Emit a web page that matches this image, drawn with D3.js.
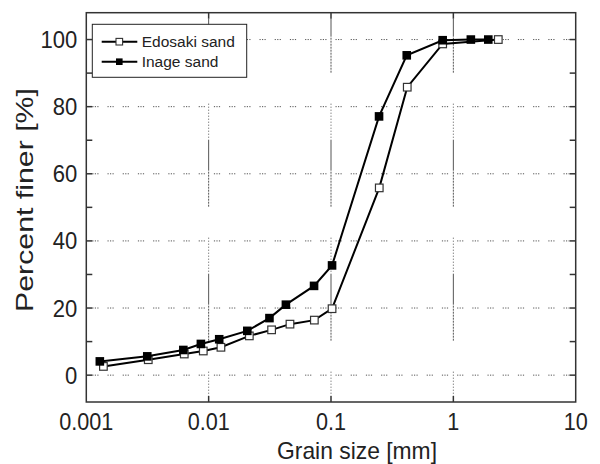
<!DOCTYPE html>
<html>
<head>
<meta charset="utf-8">
<script src="https://cdn.jsdelivr.net/npm/d3@7"></script>
<style>
  body { margin: 0; background: #fff; }
  text { font-family: "Liberation Sans", Arial, sans-serif; fill: #222; }
</style>
</head>
<body>
<div id="chart"></div>
<script>
// grain size distribution (sieve + hydrometer)
var edoSize = [0.00138, 0.00321, 0.00632, 0.00904, 0.0126, 0.0215, 0.0327, 0.0462, 0.0731, 0.102, 0.248, 0.42, 0.818, 2.33];
var edoPct  = [2.6, 4.6, 6.3, 7.2, 8.3, 11.7, 13.5, 15.2, 16.4, 19.8, 55.8, 85.8, 98.7, 100];
var inaSize = [0.00129, 0.00315, 0.00621, 0.00864, 0.0122, 0.0207, 0.0314, 0.0428, 0.0727, 0.102, 0.247, 0.416, 0.818, 1.39, 1.93];
var inaPct  = [4.1, 5.6, 7.5, 9.3, 10.7, 13.2, 17.0, 21.0, 26.6, 32.7, 77.1, 95.3, 99.8, 100, 100];

var xTicks = [0.001, 0.01, 0.1, 1, 10];
var xLabels = ["0.001", "0.01", "0.1", "1", "10"];
var yTicks = [0, 20, 40, 60, 80, 100];
var yMinor = [10, 30, 50, 70, 90];

var w = 600, h = 464;
var L = 86.3, R = 575.7, T = 12.7, B = 402;

var svg = d3.select("#chart").append("svg")
  .attr("width", w).attr("height", h);

var x = d3.scaleLog().domain([0.001, 10]).range([L, R]);
var y = d3.scaleLinear().domain([-8, 108]).range([B, T]);

// grid
svg.append("g").selectAll("line")
  .data(yTicks).enter().append("line")
  .attr("x1", L + 6).attr("x2", R - 6)
  .attr("y1", d => y(d)).attr("y2", d => y(d))
  .attr("stroke", "#555").attr("stroke-width", 1)
  .attr("stroke-dasharray", "1.2,1.3,1.2,1.3,1.2,9");

var vdash = [];
for (var i = 0; i < 12; i++) vdash.push(1, 2);
vdash.push(31);
svg.append("g").selectAll("line")
  .data([0.01, 0.1, 1]).enter().append("line")
  .attr("x1", d => x(d)).attr("x2", d => x(d))
  .attr("y1", T + 6).attr("y2", B - 6)
  .attr("stroke", "#555").attr("stroke-width", 1)
  .attr("stroke-dasharray", vdash.join(","))
  .attr("stroke-dashoffset", 49);

// frame
svg.append("rect")
  .attr("x", L).attr("y", T).attr("width", R - L).attr("height", B - T)
  .attr("fill", "none").attr("stroke", "#333").attr("stroke-width", 1.5);

// inward ticks on all sides
var tk = svg.append("g").attr("stroke", "#333").attr("stroke-width", 1.5);
yTicks.concat(yMinor).forEach(function(v) {
  tk.append("line").attr("x1", L).attr("x2", L + 6).attr("y1", y(v)).attr("y2", y(v));
  tk.append("line").attr("x1", R - 6).attr("x2", R).attr("y1", y(v)).attr("y2", y(v));
});
[0.01, 0.1, 1].forEach(function(v) {
  tk.append("line").attr("x1", x(v)).attr("x2", x(v)).attr("y1", B).attr("y2", B - 6);
  tk.append("line").attr("x1", x(v)).attr("x2", x(v)).attr("y1", T).attr("y2", T + 6);
});

// tick labels
svg.append("g").selectAll("text")
  .data(xTicks).enter().append("text")
  .attr("transform", d => "translate(" + x(d) + "," + (B + 28) + ") scale(0.9,1)")
  .attr("text-anchor", "middle")
  .attr("font-size", 24)
  .text((d, i) => xLabels[i]);

svg.append("g").selectAll("text")
  .data(yTicks).enter().append("text")
  .attr("transform", d => "translate(" + (L - 9) + "," + (y(d) + 8.5) + ") scale(0.92,1)")
  .attr("text-anchor", "end")
  .attr("font-size", 24)
  .text(d => d);

// axis titles
svg.append("text")
  .attr("x", 277).attr("y", 459)
  .attr("font-size", 24)
  .attr("textLength", 160).attr("lengthAdjust", "spacingAndGlyphs")
  .text("Grain size [mm]");

svg.append("text")
  .attr("transform", "translate(33,312) rotate(-90)")
  .attr("font-size", 24)
  .attr("textLength", 224).attr("lengthAdjust", "spacingAndGlyphs")
  .text("Percent finer [%]");

// series
var line = d3.line().x(d => x(d[0])).y(d => y(d[1]));
var edo = edoSize.map((s, i) => [s, edoPct[i]]);
var ina = inaSize.map((s, i) => [s, inaPct[i]]);

svg.append("path").datum(edo).attr("d", line)
  .attr("fill", "none").attr("stroke", "#000").attr("stroke-width", 2);
svg.append("g").selectAll("rect").data(edo).enter().append("rect")
  .attr("x", d => x(d[0]) - 3.8).attr("y", d => y(d[1]) - 3.8)
  .attr("width", 7.6).attr("height", 7.6)
  .attr("fill", "#fff").attr("stroke", "#333").attr("stroke-width", 1.2);

svg.append("path").datum(ina).attr("d", line)
  .attr("fill", "none").attr("stroke", "#000").attr("stroke-width", 2);
svg.append("g").selectAll("rect").data(ina).enter().append("rect")
  .attr("x", d => x(d[0]) - 4.3).attr("y", d => y(d[1]) - 4.3)
  .attr("width", 8.6).attr("height", 8.6)
  .attr("fill", "#000");

// legend
var lg = svg.append("g");
lg.append("rect")
  .attr("x", 92.3).attr("y", 24.3).attr("width", 154.4).attr("height", 53)
  .attr("fill", "#fff").attr("stroke", "#222").attr("stroke-width", 1);
var entries = [{name: "Edosaki sand", open: true}, {name: "Inage sand", open: false}];
entries.forEach(function(e, i) {
  var yy = 41.7 + i * 20;
  lg.append("line").attr("x1", 101.7).attr("x2", 137.3).attr("y1", yy).attr("y2", yy)
    .attr("stroke", "#000").attr("stroke-width", 2);
  lg.append("rect").attr("x", 116).attr("y", yy - 3.3).attr("width", 6.6).attr("height", 6.6)
    .attr("fill", e.open ? "#fff" : "#000")
    .attr("stroke", e.open ? "#333" : "none").attr("stroke-width", 1.1);
  lg.append("text").attr("x", 141.7).attr("y", yy + 5.5)
    .attr("font-size", 15.5).attr("fill", "#222")
    .text(e.name);
});
</script>
</body>
</html>
